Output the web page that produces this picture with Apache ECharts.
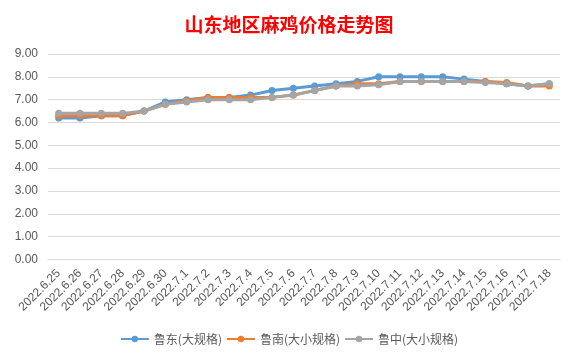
<!DOCTYPE html>
<html><head><meta charset="utf-8">
<script src="https://cdn.jsdelivr.net/npm/echarts@6/dist/echarts.min.js"></script>
<style>html,body{margin:0;padding:0;background:#fff}#c{width:578px;height:359px}</style>
</head><body><div id="c"></div>
<script>
const categories = ['2022.6.25','2022.6.26','2022.6.27','2022.6.28','2022.6.29','2022.6.30','2022.7.1','2022.7.2','2022.7.3','2022.7.4','2022.7.5','2022.7.6','2022.7.7','2022.7.8','2022.7.9','2022.7.10','2022.7.11','2022.7.12','2022.7.13','2022.7.14','2022.7.15','2022.7.16','2022.7.17','2022.7.18'];
const ludong = [6.2,6.2,6.3,6.3,6.5,6.9,7.0,7.1,7.1,7.2,7.4,7.5,7.6,7.7,7.8,8.0,8.0,8.0,8.0,7.9,7.8,7.7,7.6,7.7];
const lunan = [6.3,6.3,6.3,6.3,6.5,6.8,6.95,7.1,7.1,7.1,7.1,7.2,7.4,7.6,7.7,7.7,7.8,7.8,7.8,7.8,7.8,7.75,7.6,7.6];
const luzhong = [6.4,6.4,6.4,6.4,6.5,6.8,6.9,7.0,7.0,7.0,7.1,7.2,7.4,7.6,7.6,7.65,7.8,7.8,7.8,7.8,7.75,7.7,7.6,7.7];
const seriesNames = ['鲁东(大规格)','鲁南(大小规格)','鲁中(大小规格)'];
const colors = ['#5B9BD5','#ED7D31','#A5A5A5'];

const chart = echarts.init(document.getElementById('c'));
const mk = (name, data, color) => ({
  name, type:'line', data, symbol:'circle', symbolSize:7,
  lineStyle:{width:3,color}, itemStyle:{color}
});
chart.setOption({
  animation:false,
  backgroundColor:'#fff',
  title:{text:'山东地区麻鸡价格走势图',left:'center',top:10,
    textStyle:{color:'#FF0000',fontSize:19,fontWeight:'bold',fontFamily:'"Noto Sans CJK SC", serif'}},
  grid:{left:48,right:18,top:54,bottom:99.5},
  legend:{bottom:9,left:'center',itemWidth:28,itemHeight:8,itemGap:4,
    textStyle:{color:'#595959',fontSize:12,fontFamily:'"Noto Sans CJK SC"'},
    data:seriesNames},
  xAxis:{type:'category',data:categories,boundaryGap:true,
    axisLine:{lineStyle:{color:'#d9d9d9'}},axisTick:{show:false},
    axisLabel:{rotate:45,interval:0,color:'#595959',fontSize:12,margin:12,fontFamily:'"Liberation Sans", Arial'}},
  yAxis:{type:'value',min:0,max:9,interval:1,
    axisLine:{show:false},axisTick:{show:false},
    splitLine:{lineStyle:{color:'#d9d9d9'}},
    axisLabel:{formatter:v=>v.toFixed(2),color:'#595959',fontSize:12,margin:10,fontFamily:'"Liberation Sans", Arial'}},
  series:[mk(seriesNames[0],ludong,colors[0]),mk(seriesNames[1],lunan,colors[1]),mk(seriesNames[2],luzhong,colors[2])]
});
</script></body></html>
